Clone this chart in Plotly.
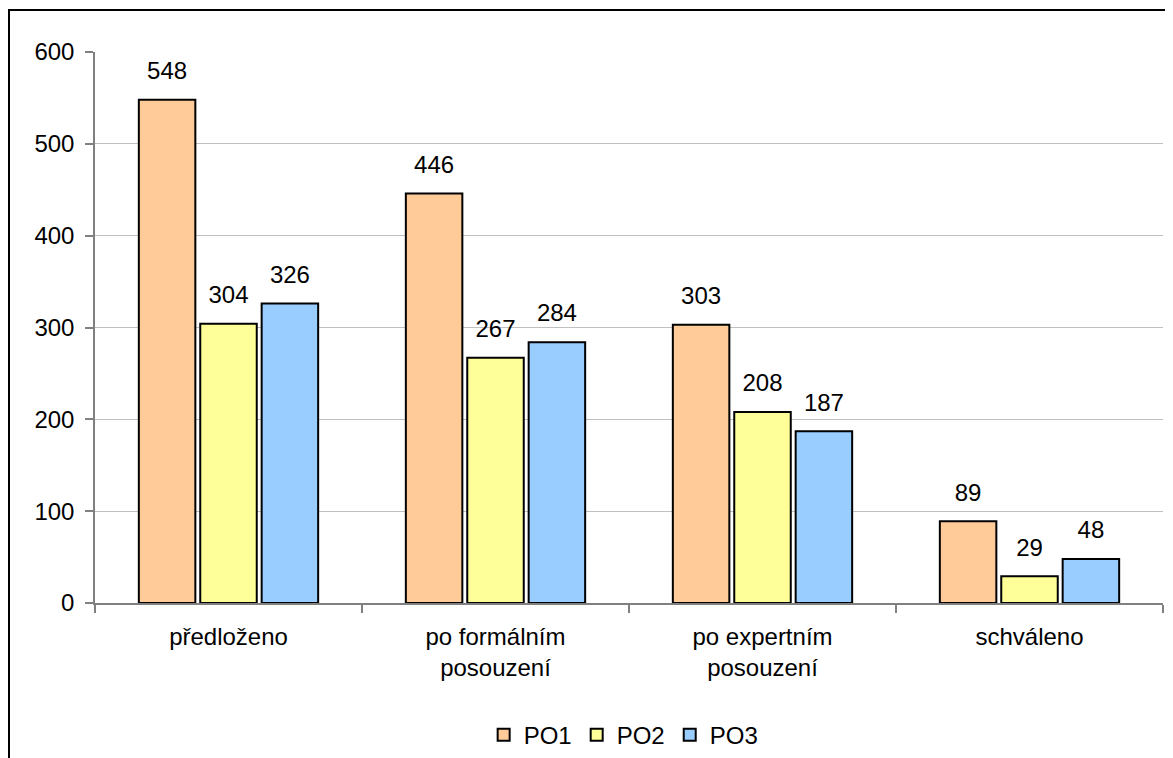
import plotly.graph_objects as go

categories = ["předloženo", "po formálním<br>posouzení", "po expertním<br>posouzení", "schváleno"]
series_names = ["PO1", "PO2", "PO3"]
po1 = [548, 446, 303, 89]
po2 = [304, 267, 208, 29]
po3 = [326, 284, 187, 48]
colors = ["#FFCC99", "#FFFF99", "#99CCFF"]
y_ticks = [0, 100, 200, 300, 400, 500, 600]

FONT = "Liberation Sans, Arial, sans-serif"
FS = 24
GAP = 0.31

fig = go.Figure()
for name, vals, col in zip(series_names, [po1, po2, po3], colors):
    fig.add_trace(go.Bar(
        x=categories, y=vals, name=name,
        marker=dict(color=col, line=dict(color="#000000", width=2)),
        offsetgroup=name,
    ))
for name, vals in zip(series_names, [po1, po2, po3]):
    fig.add_trace(go.Scatter(
        x=categories, y=vals, mode="markers+text",
        text=[str(v) for v in vals], textposition="top center",
        textfont=dict(family=FONT, size=FS, color="#000000"),
        marker=dict(size=22, opacity=0),
        showlegend=False, hoverinfo="skip", cliponaxis=False,
        offsetgroup=name,
    ))

fig.update_layout(
    width=1173, height=758,
    barmode="group", bargap=GAP, bargroupgap=0.08,
    scattermode="group", scattergap=GAP,
    paper_bgcolor="white", plot_bgcolor="white",
    margin=dict(l=87, r=18, t=44, b=163, autoexpand=False),
    font=dict(family=FONT, size=FS, color="#000000"),
    showlegend=True,
    legend=dict(orientation="h", x=0.495, xanchor="center", y=-0.24, yanchor="middle",
                font=dict(family=FONT, size=FS), itemwidth=30, traceorder="normal",
                tracegroupgap=0),
    shapes=[dict(type="rect", xref="paper", yref="paper",
                 x0=(9 - 95) / 1068, x1=(1200 - 95) / 1068,
                 y0=(603 - 800) / 551, y1=(603 - 10) / 551,
                 line=dict(color="#000000", width=2), layer="below")],
)
fig.update_xaxes(
    showgrid=False, showline=True, linecolor="#808080", linewidth=1.5,
    ticks="outside", tickson="boundaries", ticklen=8, tickcolor="#808080", tickwidth=1.5,
    ticklabelstandoff=11, tickfont=dict(family=FONT, size=FS),
)
fig.update_yaxes(
    range=[0, 600], tickvals=y_ticks, showgrid=True, gridcolor="#C0C0C0", gridwidth=1,
    showline=True, linecolor="#808080", linewidth=1.5, zeroline=False,
    ticks="outside", ticklen=8, tickcolor="#808080", tickwidth=1.5,
    ticklabelstandoff=6, tickfont=dict(family=FONT, size=FS),
)

fig.write_html("out.html")
